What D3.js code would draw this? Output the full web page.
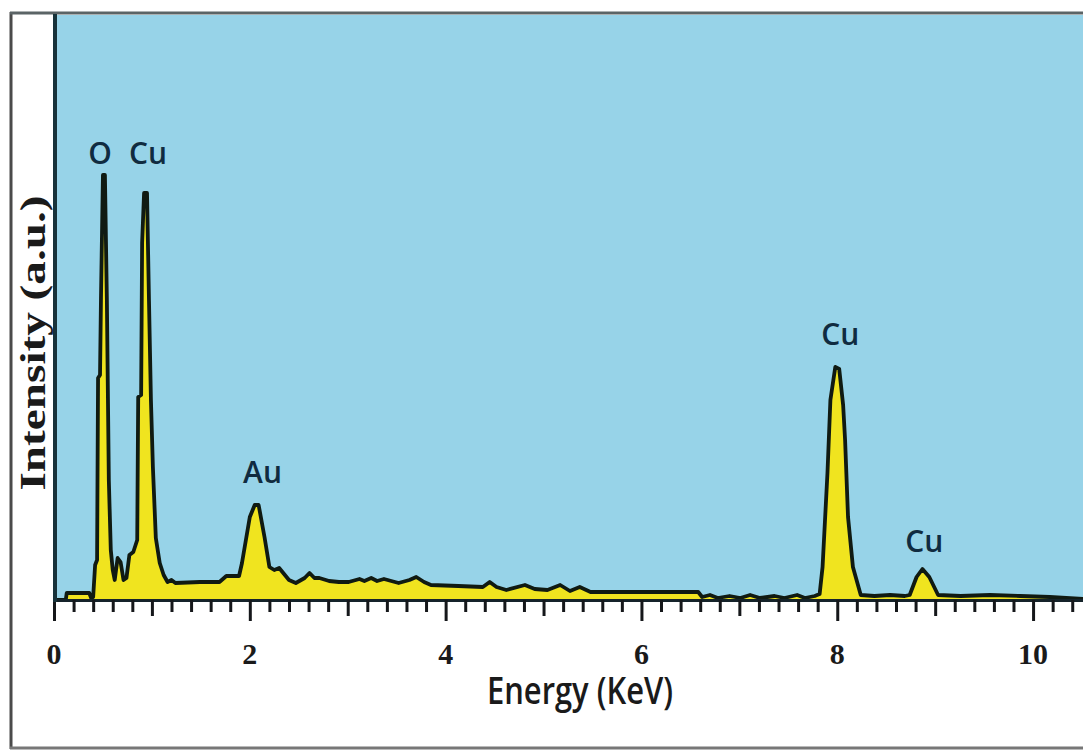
<!DOCTYPE html>
<html>
<head>
<meta charset="utf-8">
<script src="https://cdn.jsdelivr.net/npm/d3@7"></script>
<style>
  body { margin: 0; background: #fff; }
  svg { display: block; }
</style>
</head>
<body>
<svg id="chart" width="1083" height="752"></svg>
<script>
// EDS spectrum: energy (keV) and intensity (a.u.)
var energy = [0.01, 0.06, 0.12, 0.13, 0.36, 0.38, 0.40, 0.42, 0.44, 0.45, 0.47, 0.48, 0.50, 0.52, 0.54, 0.56, 0.58, 0.60, 0.62, 0.65, 0.68, 0.71, 0.74, 0.77, 0.81, 0.85, 0.86, 0.89, 0.90, 0.92, 0.95, 0.97, 0.99, 1.01, 1.04, 1.08, 1.12, 1.16, 1.20, 1.24, 1.49, 1.69, 1.76, 1.89, 1.92, 2.00, 2.05, 2.09, 2.15, 2.20, 2.25, 2.30, 2.40, 2.47, 2.56, 2.61, 2.66, 2.71, 2.81, 2.91, 3.01, 3.12, 3.17, 3.24, 3.30, 3.37, 3.52, 3.63, 3.70, 3.78, 3.85, 4.13, 4.38, 4.45, 4.52, 4.62, 4.81, 4.91, 5.04, 5.17, 5.27, 5.37, 5.48, 6.09, 6.58, 6.62, 6.70, 6.78, 6.90, 7.01, 7.11, 7.21, 7.36, 7.46, 7.59, 7.67, 7.77, 7.82, 7.85, 7.90, 7.93, 7.98, 8.02, 8.06, 8.08, 8.11, 8.16, 8.24, 8.38, 8.54, 8.69, 8.74, 8.81, 8.87, 8.94, 9.03, 9.26, 9.56, 9.87, 10.17, 10.51];
var intensity = [0, 0, 0, 7, 7, 2, 3, 35, 40, 222, 225, 303, 425, 425, 300, 120, 50, 30, 20, 42, 38, 20, 22, 45, 48, 60, 203, 205, 357, 407, 407, 300, 200, 133, 62, 37, 25, 18, 20, 17, 18, 18, 24, 24, 37, 83, 95, 95, 63, 33, 30, 32, 20, 17, 22, 27, 22, 22, 19, 18, 18, 21, 19, 22, 19, 21, 17, 20, 23, 18, 15, 14, 13, 18, 13, 10, 15, 11, 10, 15, 9, 13, 8, 8, 8, 3, 5, 2, 4, 2, 5, 2, 4, 2, 5, 2, 4, 6, 33, 127, 200, 233, 231, 195, 160, 83, 33, 5, 4, 5, 4, 5, 23, 31, 23, 5, 4, 5, 4, 3, 1];

var peakNames = ['O', 'Cu', 'Au', 'Cu', 'Cu'];
var peakEnergy = [0.47, 0.96, 2.13, 8.03, 8.89];
var peakLabelLevel = [436, 436, 117, 255, 48];

var majorTicks = [0, 2, 4, 6, 8, 10];

var svg = d3.select('#chart');
var W = 1083, H = 752;
var plotLeft = 54, plotRight = 1083, plotTop = 15, plotBottom = 600;

var x = d3.scaleLinear().domain([0, 10.51]).range([plotLeft, plotRight]);
var y = d3.scaleLinear().domain([0, 585]).range([plotBottom, plotTop]);

var data = energy.map((e, i) => { return { e: e, v: intensity[i] }; });

// outer frame
svg.append('line').attr('x1', 11).attr('x2', 11).attr('y1', 12).attr('y2', 749)
  .attr('stroke', '#4a4a4a').attr('stroke-width', 3);
svg.append('line').attr('x1', 10).attr('x2', W).attr('y1', 13).attr('y2', 13)
  .attr('stroke', '#5b6466').attr('stroke-width', 3);
svg.append('line').attr('x1', 10).attr('x2', W).attr('y1', 748).attr('y2', 748)
  .attr('stroke', '#777').attr('stroke-width', 3);

// plot background
svg.append('rect')
  .attr('x', plotLeft).attr('y', plotTop)
  .attr('width', plotRight - plotLeft).attr('height', plotBottom - plotTop)
  .attr('fill', '#97d3e8');

svg.append('defs').append('clipPath').attr('id', 'plotclip')
  .append('rect').attr('x', plotLeft).attr('y', plotTop - 5)
  .attr('width', plotRight - plotLeft).attr('height', plotBottom - plotTop + 5);

var area = d3.area()
  .x(d => x(d.e))
  .y0(y(0))
  .y1(d => y(d.v));

var line = d3.line()
  .x(d => x(d.e))
  .y(d => y(d.v));

var g = svg.append('g').attr('clip-path', 'url(#plotclip)');

g.append('path')
  .datum(data)
  .attr('d', area)
  .attr('fill', '#f0e41f');

g.append('path')
  .datum(data)
  .attr('d', line)
  .attr('fill', 'none')
  .attr('stroke', '#101a12')
  .attr('stroke-width', 3.8)
  .attr('stroke-linejoin', 'round');

// x axis: minor ticks every 0.2 keV, medium at odd, long at even
var tickVals = d3.range(0, 53).map(i => i * 0.2);
var xAxis = d3.axisBottom(x).tickValues(tickVals).tickFormat('').tickSizeOuter(0);
var ax = svg.append('g')
  .attr('transform', 'translate(0,' + plotBottom + ')')
  .call(xAxis);
ax.select('.domain').attr('stroke', '#15232a').attr('stroke-width', 3);
ax.selectAll('.tick line')
  .attr('stroke', '#15171a')
  .attr('stroke-width', 3)
  .attr('y2', d => {
    var r = Math.round(d * 5);
    if (r % 10 === 0) return 21;
    if (r % 5 === 0) return 16;
    return 12;
  });

svg.append('g')
  .selectAll('text')
  .data(majorTicks)
  .enter().append('text')
    .attr('x', d => x(d))
    .attr('y', 664)
    .attr('text-anchor', 'middle')
    .attr('font-family', '"Liberation Serif", serif')
    .attr('font-weight', 'bold')
    .attr('font-size', 30)
    .attr('fill', '#1a1a1a')
    .text(d => d);

// left axis line
svg.append('line').attr('x1', 55).attr('x2', 55).attr('y1', plotTop - 1).attr('y2', plotBottom + 2)
  .attr('stroke', '#17323a').attr('stroke-width', 4);

// peak labels
svg.append('g')
  .selectAll('text')
  .data(peakNames)
  .enter().append('text')
    .attr('x', (d, i) => x(peakEnergy[i]))
    .attr('y', (d, i) => y(peakLabelLevel[i]))
    .attr('text-anchor', 'middle')
    .attr('font-family', '"Open Sans", sans-serif')
    .attr('font-weight', 600)
    .attr('font-size', 30)
    .attr('fill', '#102b40')
    .text(d => d);

// axis titles
svg.append('text')
  .attr('transform', 'translate(580,704) scale(1,1.15)')
  .attr('text-anchor', 'middle')
  .attr('font-family', '"Open Sans", sans-serif')
  .attr('font-weight', 600)
  .attr('font-size', 33)
  .attr('textLength', 186)
  .attr('lengthAdjust', 'spacingAndGlyphs')
  .attr('fill', '#1a1a1a')
  .text('Energy (KeV)');

svg.append('text')
  .attr('transform', 'translate(45,343) rotate(-90)')
  .attr('text-anchor', 'middle')
  .attr('font-family', '"Liberation Serif", serif')
  .attr('font-weight', 'bold')
  .attr('font-size', 36)
  .attr('textLength', 295)
  .attr('lengthAdjust', 'spacingAndGlyphs')
  .attr('fill', '#1a1a1a')
  .text('Intensity (a.u.)');
</script>
</body>
</html>
